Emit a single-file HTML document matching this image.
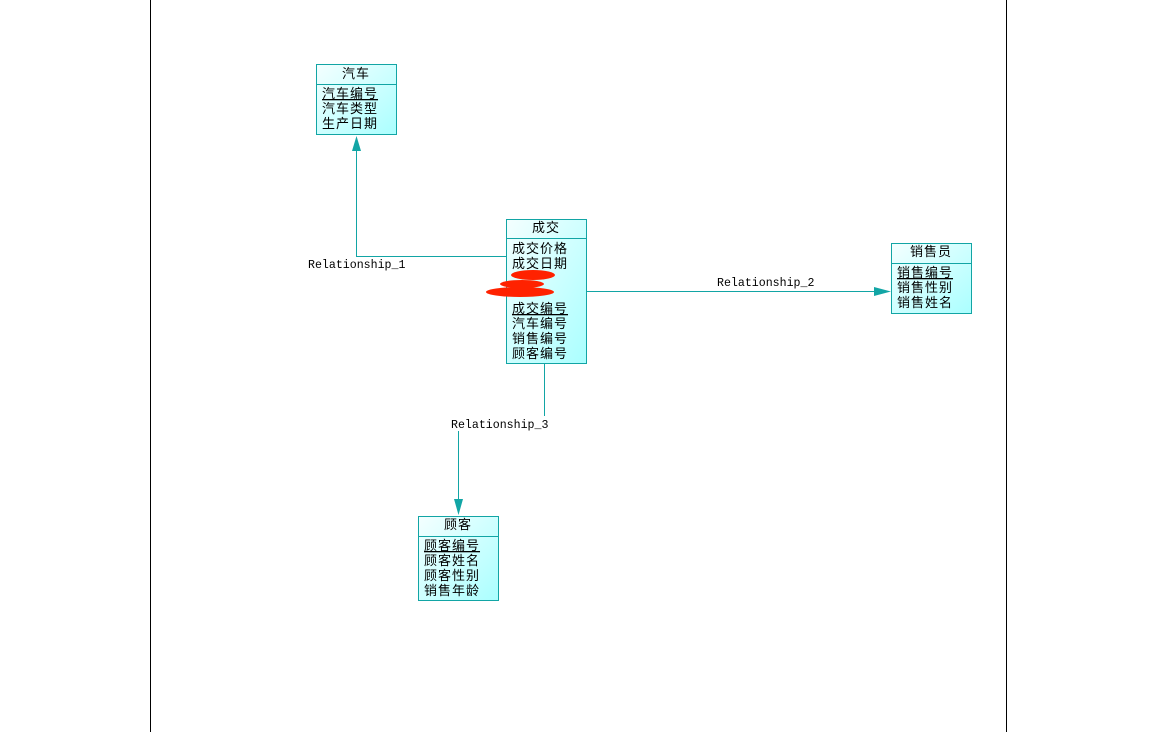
<!DOCTYPE html>
<html><head><meta charset="utf-8"><style>
body{margin:0;background:#fff;width:1161px;height:732px;overflow:hidden}
text{font-family:"Liberation Sans","Noto Sans CJK SC",sans-serif;font-size:13px;letter-spacing:1px;fill:#000}
.m{font-family:"Liberation Mono",monospace;font-size:11.6px;letter-spacing:0}
</style></head><body>
<svg width="1161" height="732" xmlns="http://www.w3.org/2000/svg">
<defs><linearGradient id="g" x1="0" y1="0" x2="1" y2="1"><stop offset="0" stop-color="#f4ffff"/><stop offset="1" stop-color="#aaffff"/></linearGradient></defs>
<line x1="150.5" y1="0" x2="150.5" y2="732" stroke="#000"/>
<line x1="1006.5" y1="0" x2="1006.5" y2="732" stroke="#000"/>
<g stroke="#12a5a5" fill="none" stroke-width="1">
<polyline points="506,256.5 356.5,256.5 356.5,140"/>
<line x1="586" y1="291.5" x2="880" y2="291.5"/>
<polyline points="544.5,363 544.5,416"/>
<polyline points="458.5,431 458.5,505"/>
</g>
<g fill="#12a5a5">
<polygon points="356.5,136 352,151 361,151"/>
<polygon points="891,291.5 874,287 874,296"/>
<polygon points="458.5,515 454,499 463,499"/>
</g>
<g stroke="#12a5a5" fill="url(#g)">
<rect x="316.5" y="64.5" width="80" height="70"/>
<rect x="506.5" y="219.5" width="80" height="144"/>
<rect x="891.5" y="243.5" width="80" height="70"/>
<rect x="418.5" y="516.5" width="80" height="84"/>
</g>
<g stroke="#12a5a5">
<line x1="316" y1="84.5" x2="397" y2="84.5"/>
<line x1="506" y1="238.5" x2="587" y2="238.5"/>
<line x1="891" y1="263.5" x2="972" y2="263.5"/>
<line x1="418" y1="536.5" x2="499" y2="536.5"/>
</g>
<text x="356" y="78" text-anchor="middle">汽车</text>
<text x="322" y="98" text-decoration="underline">汽车编号</text>
<text x="322" y="113">汽车类型</text>
<text x="322" y="128">生产日期</text>
<text x="546" y="232" text-anchor="middle">成交</text>
<text x="512" y="253">成交价格</text>
<text x="512" y="268">成交日期</text>
<text x="512" y="313" text-decoration="underline">成交编号</text>
<text x="512" y="328">汽车编号</text>
<text x="512" y="343">销售编号</text>
<text x="512" y="358">顾客编号</text>
<g fill="#ff2200">
<ellipse cx="533" cy="275" rx="22" ry="5"/>
<ellipse cx="522" cy="284" rx="22" ry="4"/>
<ellipse cx="520" cy="292" rx="34" ry="5"/>
</g>
<text x="931" y="256" text-anchor="middle">销售员</text>
<text x="897" y="277" text-decoration="underline">销售编号</text>
<text x="897" y="292">销售性别</text>
<text x="897" y="307">销售姓名</text>
<text x="458" y="529" text-anchor="middle">顾客</text>
<text x="424" y="550" text-decoration="underline">顾客编号</text>
<text x="424" y="565">顾客姓名</text>
<text x="424" y="580">顾客性别</text>
<text x="424" y="595">销售年龄</text>
<text class="m" x="308" y="268">Relationship_1</text>
<text class="m" x="717" y="286">Relationship_2</text>
<text class="m" x="451" y="428">Relationship_3</text>
</svg>
</body></html>
